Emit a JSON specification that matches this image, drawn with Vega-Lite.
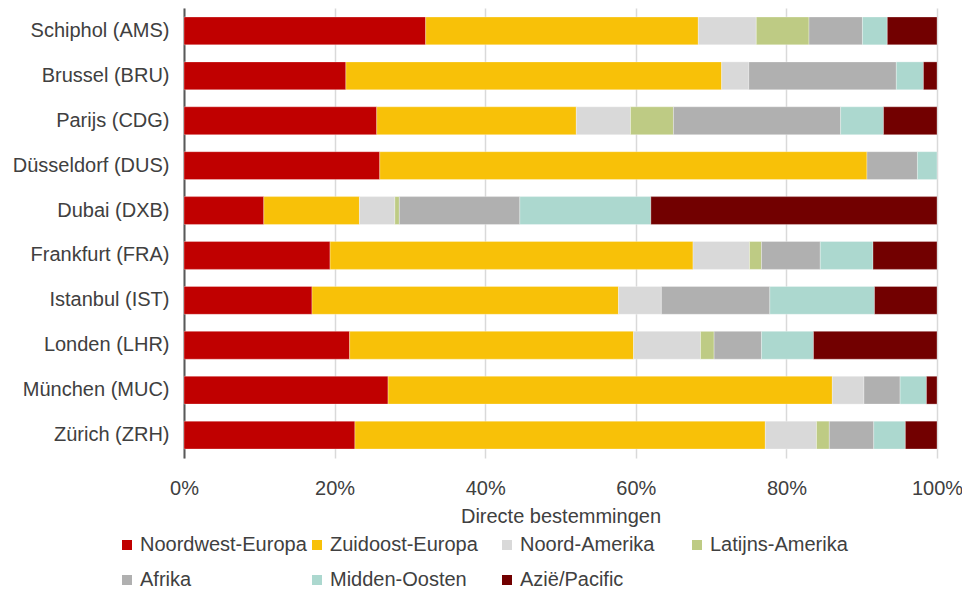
{
  "$schema": "https://vega.github.io/schema/vega-lite/v6.json",
  "width": 753,
  "height": 450,
  "autosize": "none",
  "padding": {"left": 184, "top": 8, "right": 25, "bottom": 133},
  "background": "white",
  "config": {
    "font": "Liberation Sans",
    "view": {"stroke": null}
  },
  "datasets": {
    "regions": [
      {"region": "Noordwest-Europa", "rank": 1},
      {"region": "Zuidoost-Europa", "rank": 2},
      {"region": "Noord-Amerika", "rank": 3},
      {"region": "Latijns-Amerika", "rank": 4},
      {"region": "Afrika", "rank": 5},
      {"region": "Midden-Oosten", "rank": 6},
      {"region": "Azië/Pacific", "rank": 7}
    ]
  },
  "data": {
    "values": [
      {"airport": "Schiphol (AMS)", "region": "Noordwest-Europa", "value": 32.1},
      {"airport": "Schiphol (AMS)", "region": "Zuidoost-Europa", "value": 36.2},
      {"airport": "Schiphol (AMS)", "region": "Noord-Amerika", "value": 7.7},
      {"airport": "Schiphol (AMS)", "region": "Latijns-Amerika", "value": 7.0},
      {"airport": "Schiphol (AMS)", "region": "Afrika", "value": 7.1},
      {"airport": "Schiphol (AMS)", "region": "Midden-Oosten", "value": 3.3},
      {"airport": "Schiphol (AMS)", "region": "Azië/Pacific", "value": 6.6},
      {"airport": "Brussel (BRU)", "region": "Noordwest-Europa", "value": 21.5},
      {"airport": "Brussel (BRU)", "region": "Zuidoost-Europa", "value": 49.9},
      {"airport": "Brussel (BRU)", "region": "Noord-Amerika", "value": 3.6},
      {"airport": "Brussel (BRU)", "region": "Afrika", "value": 19.6},
      {"airport": "Brussel (BRU)", "region": "Midden-Oosten", "value": 3.6},
      {"airport": "Brussel (BRU)", "region": "Azië/Pacific", "value": 1.8},
      {"airport": "Parijs (CDG)", "region": "Noordwest-Europa", "value": 25.6},
      {"airport": "Parijs (CDG)", "region": "Zuidoost-Europa", "value": 26.5},
      {"airport": "Parijs (CDG)", "region": "Noord-Amerika", "value": 7.2},
      {"airport": "Parijs (CDG)", "region": "Latijns-Amerika", "value": 5.7},
      {"airport": "Parijs (CDG)", "region": "Afrika", "value": 22.2},
      {"airport": "Parijs (CDG)", "region": "Midden-Oosten", "value": 5.7},
      {"airport": "Parijs (CDG)", "region": "Azië/Pacific", "value": 7.1},
      {"airport": "Düsseldorf (DUS)", "region": "Noordwest-Europa", "value": 26.0},
      {"airport": "Düsseldorf (DUS)", "region": "Zuidoost-Europa", "value": 64.7},
      {"airport": "Düsseldorf (DUS)", "region": "Afrika", "value": 6.7},
      {"airport": "Düsseldorf (DUS)", "region": "Midden-Oosten", "value": 2.6},
      {"airport": "Dubai (DXB)", "region": "Noordwest-Europa", "value": 10.6},
      {"airport": "Dubai (DXB)", "region": "Zuidoost-Europa", "value": 12.7},
      {"airport": "Dubai (DXB)", "region": "Noord-Amerika", "value": 4.7},
      {"airport": "Dubai (DXB)", "region": "Latijns-Amerika", "value": 0.6},
      {"airport": "Dubai (DXB)", "region": "Afrika", "value": 16.0},
      {"airport": "Dubai (DXB)", "region": "Midden-Oosten", "value": 17.4},
      {"airport": "Dubai (DXB)", "region": "Azië/Pacific", "value": 38.0},
      {"airport": "Frankfurt (FRA)", "region": "Noordwest-Europa", "value": 19.4},
      {"airport": "Frankfurt (FRA)", "region": "Zuidoost-Europa", "value": 48.2},
      {"airport": "Frankfurt (FRA)", "region": "Noord-Amerika", "value": 7.5},
      {"airport": "Frankfurt (FRA)", "region": "Latijns-Amerika", "value": 1.6},
      {"airport": "Frankfurt (FRA)", "region": "Afrika", "value": 7.8},
      {"airport": "Frankfurt (FRA)", "region": "Midden-Oosten", "value": 7.0},
      {"airport": "Frankfurt (FRA)", "region": "Azië/Pacific", "value": 8.5},
      {"airport": "Istanbul (IST)", "region": "Noordwest-Europa", "value": 17.0},
      {"airport": "Istanbul (IST)", "region": "Zuidoost-Europa", "value": 40.7},
      {"airport": "Istanbul (IST)", "region": "Noord-Amerika", "value": 5.7},
      {"airport": "Istanbul (IST)", "region": "Afrika", "value": 14.4},
      {"airport": "Istanbul (IST)", "region": "Midden-Oosten", "value": 13.9},
      {"airport": "Istanbul (IST)", "region": "Azië/Pacific", "value": 8.3},
      {"airport": "Londen (LHR)", "region": "Noordwest-Europa", "value": 22.0},
      {"airport": "Londen (LHR)", "region": "Zuidoost-Europa", "value": 37.7},
      {"airport": "Londen (LHR)", "region": "Noord-Amerika", "value": 8.9},
      {"airport": "Londen (LHR)", "region": "Latijns-Amerika", "value": 1.8},
      {"airport": "Londen (LHR)", "region": "Afrika", "value": 6.3},
      {"airport": "Londen (LHR)", "region": "Midden-Oosten", "value": 6.9},
      {"airport": "Londen (LHR)", "region": "Azië/Pacific", "value": 16.4},
      {"airport": "München (MUC)", "region": "Noordwest-Europa", "value": 27.1},
      {"airport": "München (MUC)", "region": "Zuidoost-Europa", "value": 59.0},
      {"airport": "München (MUC)", "region": "Noord-Amerika", "value": 4.2},
      {"airport": "München (MUC)", "region": "Afrika", "value": 4.8},
      {"airport": "München (MUC)", "region": "Midden-Oosten", "value": 3.5},
      {"airport": "München (MUC)", "region": "Azië/Pacific", "value": 1.4},
      {"airport": "Zürich (ZRH)", "region": "Noordwest-Europa", "value": 22.7},
      {"airport": "Zürich (ZRH)", "region": "Zuidoost-Europa", "value": 54.5},
      {"airport": "Zürich (ZRH)", "region": "Noord-Amerika", "value": 6.8},
      {"airport": "Zürich (ZRH)", "region": "Latijns-Amerika", "value": 1.7},
      {"airport": "Zürich (ZRH)", "region": "Afrika", "value": 5.9},
      {"airport": "Zürich (ZRH)", "region": "Midden-Oosten", "value": 4.2},
      {"airport": "Zürich (ZRH)", "region": "Azië/Pacific", "value": 4.2}
    ]
  },
  "transform": [
    {"lookup": "region", "from": {"data": {"name": "regions"}, "key": "region", "fields": ["rank"]}}
  ],
  "mark": {"type": "bar", "stroke": "white", "strokeWidth": 0.5, "strokeOpacity": 0.6},
  "encoding": {
    "y": {
      "field": "airport",
      "type": "nominal",
      "sort": ["Schiphol (AMS)", "Brussel (BRU)", "Parijs (CDG)", "Düsseldorf (DUS)", "Dubai (DXB)", "Frankfurt (FRA)", "Istanbul (IST)", "Londen (LHR)", "München (MUC)", "Zürich (ZRH)"],
      "scale": {"paddingInner": 0.38, "paddingOuter": 0.2},
      "axis": {
        "title": null,
        "ticks": false,
        "domainColor": "#595959",
        "domainWidth": 2,
        "labelFontSize": 20,
        "labelColor": "#404040",
        "labelPadding": 15,
        "grid": false
      }
    },
    "x": {
      "field": "value",
      "type": "quantitative",
      "stack": "normalize",
      "scale": {"domain": [0, 1], "nice": false},
      "axis": {
        "title": "Directe bestemmingen",
        "titleFontSize": 20,
        "titleFontWeight": "normal",
        "titleColor": "#404040",
        "titlePadding": 8,
        "format": ".0%",
        "values": [0, 0.2, 0.4, 0.6, 0.8, 1],
        "domain": false,
        "ticks": false,
        "labelFontSize": 20,
        "labelColor": "#404040",
        "labelPadding": 20,
        "labelFlush": false,
        "grid": true,
        "gridColor": "#d9d9d9",
        "gridWidth": 1.5
      }
    },
    "color": {
      "field": "region",
      "type": "nominal",
      "sort": ["Noordwest-Europa", "Zuidoost-Europa", "Noord-Amerika", "Latijns-Amerika", "Afrika", "Midden-Oosten", "Azië/Pacific"],
      "scale": {
        "domain": ["Noordwest-Europa", "Zuidoost-Europa", "Noord-Amerika", "Latijns-Amerika", "Afrika", "Midden-Oosten", "Azië/Pacific"],
        "range": ["#C00000", "#F8C108", "#D9D9D9", "#BECB84", "#B0B0B0", "#ACD8CF", "#720000"]
      },
      "legend": {
        "title": null,
        "orient": "none",
        "legendX": -67,
        "legendY": 527,
        "direction": "horizontal",
        "columns": 4,
        "gridAlign": "all",
        "columnPadding": -8,
        "rowPadding": 15,
        "symbolType": "square",
        "symbolSize": 100,
        "symbolStrokeWidth": 0,
        "labelOffset": 3,
        "labelFontSize": 20,
        "labelColor": "#404040",
        "labelLimit": 300
      }
    },
    "order": {"field": "rank", "type": "quantitative"}
  }
}
